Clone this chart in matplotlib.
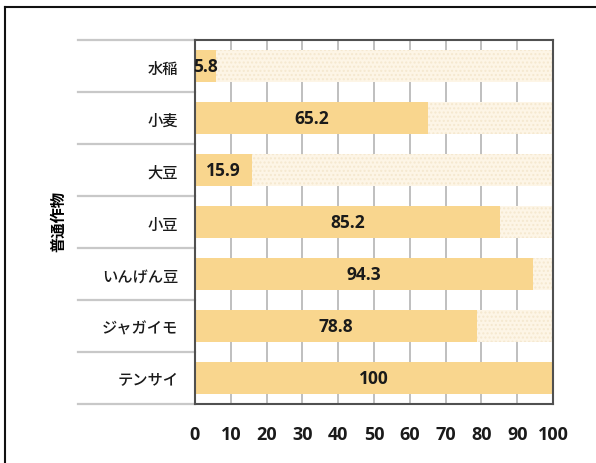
import numpy as np
import matplotlib.pyplot as plt
import matplotlib.transforms as mtransforms
from matplotlib.lines import Line2D

plt.rcParams['font.family'] = ['Noto Sans CJK JP', 'DejaVu Sans']

crops = ['水稲', '小麦', '大豆', '小豆', 'いんげん豆', 'ジャガイモ', 'テンサイ']
values = [5.8, 65.2, 15.9, 85.2, 94.3, 78.8, 100]
full = [100] * len(crops)
xticks = [0, 10, 20, 30, 40, 50, 60, 70, 80, 90, 100]
ylabel = '普通作物'

fig = plt.figure(figsize=(5.96, 4.64), dpi=100)
ax = fig.add_axes([195 / 596, 1 - 405 / 464, 358 / 596, 364 / 464])

y = np.arange(len(crops))
ax.set_ylim(len(crops) - 0.5, -0.5)
ax.set_xlim(0, 100)

# vertical grid
for t in xticks[1:-1]:
    ax.axvline(t, color='#b4b4b4', lw=1.2, zorder=0)

# background (remaining part) bars
ax.barh(y, full, height=0.62, color='#fdf5e6', edgecolor='none', zorder=1)
ax.barh(y, full, height=0.62, color='none', edgecolor='#f5e8cf', hatch='....',
        lw=0, zorder=1)
ax.barh(y, values, height=0.62, color='#f9d68e', edgecolor='none', zorder=2)

for yi, v in zip(y, values):
    ax.text(v / 2, yi, f'{v:g}', ha='center', va='center', fontsize=12.5,
            fontweight='bold', color='#1a1a1a', family='Open Sans', zorder=3)

ax.set_xticks(xticks)
ax.set_xticklabels([str(t) for t in xticks], fontsize=13, fontweight='bold',
                   family='Open Sans', color='#1a1a1a')
ax.set_yticks(y)
ax.set_yticklabels(crops, fontsize=11, color='#1a1a1a', fontweight='medium')
ax.tick_params(axis='both', length=0)
ax.tick_params(axis='x', pad=15)
ax.tick_params(axis='y', pad=12)

for s in ax.spines.values():
    s.set_color('#505050')
    s.set_linewidth(1.5)

# separator lines to the left of the axis
trans = mtransforms.blended_transform_factory(ax.transAxes, ax.transData)
for b in np.arange(-0.5, len(crops), 1.0):
    ax.add_line(Line2D([-0.327, 0], [b, b], transform=trans, color='#c8c8c8',
                       lw=1.6, clip_on=False, zorder=0))

fig.text(58 / 596, 1 - 222 / 464, ylabel, rotation=90, ha='center', va='center',
         fontsize=11, fontweight='bold')

# outer frame
fig.add_artist(Line2D([5 / 596, 5 / 596], [0, 1 - 8 / 464], transform=fig.transFigure,
                      color='#111111', lw=1.5))
fig.add_artist(Line2D([5 / 596, 1], [1 - 8 / 464, 1 - 8 / 464], transform=fig.transFigure,
                      color='#111111', lw=1.5))

fig.savefig('out.png', dpi=100)
